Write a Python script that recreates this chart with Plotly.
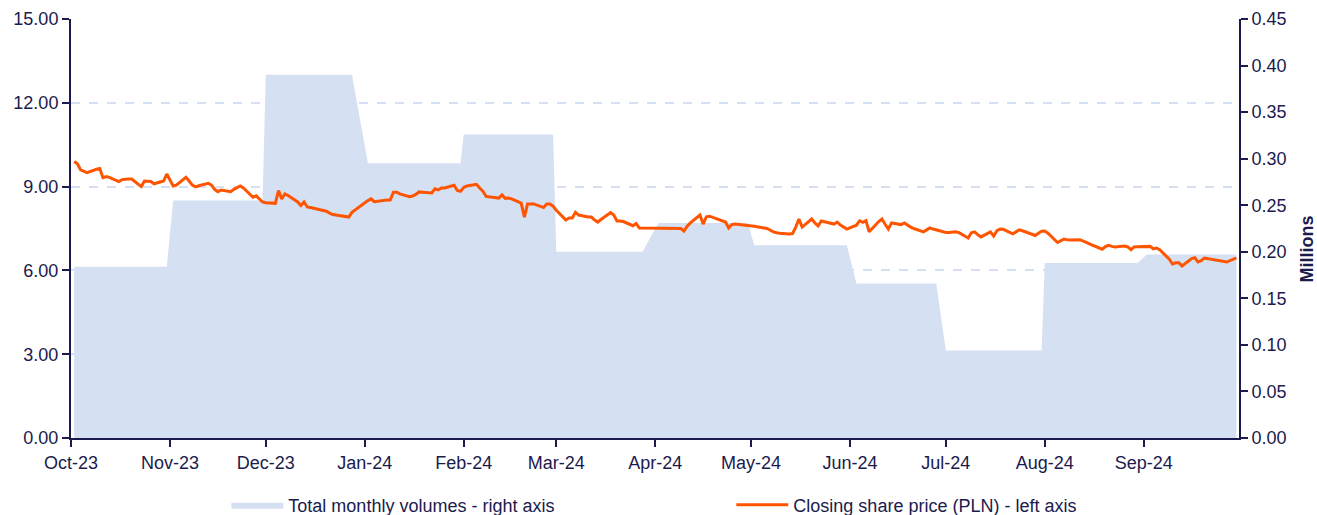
import pandas as pd
import plotly.graph_objects as go

# ---------------- data ----------------
months = ["2023-10", "2023-11", "2023-12", "2024-01", "2024-02", "2024-03",
          "2024-04", "2024-05", "2024-06", "2024-07", "2024-08", "2024-09"]

# total monthly volume (millions of shares)
monthly_volume = [0.184, 0.255, 0.390, 0.295, 0.326, 0.200,
                  0.231, 0.207, 0.166, 0.094, 0.188, 0.197]

# exchange holidays (no session)
holidays = ["2023-11-01", "2023-12-25", "2023-12-26", "2023-12-29", "2024-01-01",
            "2024-03-29", "2024-04-01", "2024-05-01", "2024-05-03", "2024-05-30",
            "2024-08-15"]

# daily closing prices (PLN), one list per month, one value per session
price_oct = [9.90, 9.82, 9.60, 9.55, 9.50, 9.62, 9.65, 9.32, 9.36, 9.33, 9.18,
             9.25, 9.27, 9.27, 9.27, 9.00, 9.20, 9.20, 9.18, 9.10, 9.20, 9.45]
price_nov = [9.02, 9.05, 9.33, 9.20, 9.05, 8.99, 9.03, 9.12, 9.05, 8.90, 8.82,
             8.88, 8.82, 8.90, 8.97, 9.02, 8.95, 8.62, 8.67, 8.55, 8.45]
price_dec = [8.42, 8.40, 8.86, 8.56, 8.74, 8.68, 8.45, 8.32, 8.45, 8.27, 8.25,
             8.17, 8.15, 8.12, 8.05, 8.00, 7.91, 8.08]
price_jan = [8.50, 8.56, 8.46, 8.48, 8.52, 8.52, 8.80, 8.80, 8.74, 8.64, 8.66,
             8.72, 8.81, 8.80, 8.77, 8.92, 8.88, 8.95, 8.95, 9.05, 8.86, 8.83]
price_feb = [8.97, 9.02, 9.08, 8.95, 8.84, 8.65, 8.63, 8.59, 8.70, 8.58, 8.59,
             8.56, 8.41, 7.91, 8.38, 8.38, 8.38, 8.25, 8.38, 8.38, 8.30]
price_mar = [8.15, 7.80, 7.88, 7.88, 8.08, 7.98, 7.91, 7.91, 7.80, 7.73, 7.82,
             8.07, 7.98, 7.77, 7.77, 7.75, 7.60, 7.68, 7.52, 7.52]
price_apr = [7.52, 7.52, 7.52, 7.52, 7.52, 7.50, 7.41, 7.58, 7.70, 7.98, 7.66,
             7.92, 7.94, 7.90, 7.76, 7.73, 7.52, 7.64, 7.66, 7.63, 7.61]
price_may = [7.58, 7.50, 7.43, 7.38, 7.35, 7.33, 7.30, 7.32, 7.55, 7.84, 7.55,
             7.84, 7.70, 7.59, 7.77, 7.74, 7.66, 7.73, 7.62, 7.48]
price_jun = [7.62, 7.77, 7.72, 7.78, 7.38, 7.75, 7.84, 7.65, 7.48, 7.70, 7.64,
             7.70, 7.62, 7.55, 7.50, 7.38, 7.45, 7.52, 7.48, 7.45]
price_jul = [7.36, 7.36, 7.37, 7.38, 7.36, 7.16, 7.35, 7.38, 7.28, 7.20, 7.38,
             7.23, 7.42, 7.48, 7.47, 7.31, 7.38, 7.45, 7.42, 7.38, 7.25, 7.33, 7.40]
price_aug = [7.41, 7.33, 7.00, 7.06, 7.12, 7.10, 7.09, 7.10, 7.06, 7.00, 6.90,
             6.76, 6.85, 6.90, 6.86, 6.84, 6.87, 6.84, 6.74, 6.84, 6.85]
price_sep = [6.86, 6.86, 6.77, 6.80, 6.74, 6.40, 6.23, 6.27, 6.27, 6.16, 6.42,
             6.45, 6.30, 6.35, 6.44, 6.38, 6.36, 6.35, 6.33, 6.30, 6.45]

monthly_prices = [price_oct, price_nov, price_dec, price_jan, price_feb, price_mar,
                  price_apr, price_may, price_jun, price_jul, price_aug, price_sep]

# ---------------- build series ----------------
hol = pd.to_datetime(holidays)
dates, prices, volumes = [], [], []
for m, vol, plist in zip(months, monthly_volume, monthly_prices):
    start = pd.Timestamp(m + "-01")
    end = start + pd.offsets.MonthEnd(0)
    days = [d for d in pd.bdate_range(start, end) if d not in hol]
    n = min(len(days), len(plist))
    dates += days[:n]
    prices += plist[:n]
    volumes += [vol] * n

NAVY = "#1b1b4d"
AREA = "#d6e0f3"
FONT = "Liberation Sans, Arial, sans-serif"

fig = go.Figure()
# volume on the base axis (drawn underneath), shown on the right side
fig.add_trace(go.Scatter(
    x=dates, y=volumes, name="Total monthly volumes - right axis",
    mode="lines", line=dict(width=0, color=AREA),
    fill="tozeroy", fillcolor=AREA, yaxis="y"))
# price on the overlaying axis (drawn on top), shown on the left side
fig.add_trace(go.Scatter(
    x=dates, y=prices, name="Closing share price (PLN) - left axis",
    mode="lines", line=dict(width=3, color="#ff5500"), yaxis="y2"))

axis_common = dict(ticks="outside", ticklen=7, tickwidth=2, tickcolor=NAVY,
                   showline=True, linecolor=NAVY, linewidth=2, zeroline=False,
                   tickformat=".2f", tickfont=dict(size=18, color=NAVY))

fig.update_layout(
    width=1317, height=515,
    margin=dict(l=71, r=78, t=19, b=77, autoexpand=False),
    paper_bgcolor="white", plot_bgcolor="white",
    font=dict(family=FONT, size=18, color=NAVY),
    showlegend=True,
    legend=dict(orientation="h", x=0.133, xanchor="left", y=-0.116, yanchor="top",
                font=dict(size=18, color=NAVY), entrywidth=438, itemwidth=52,
                entrywidthmode="pixels", traceorder="normal",
                bgcolor="rgba(0,0,0,0)"),
    xaxis=dict(
        type="date", range=["2023-10-01", "2024-09-30 20:00"],
        tick0="2023-10-01", dtick="M1", tickformat="%b-%y",
        ticks="outside", ticklen=7, tickwidth=2, tickcolor=NAVY,
        showline=True, linecolor=NAVY, linewidth=2,
        showgrid=False, zeroline=False,
        tickfont=dict(size=18, color=NAVY)),
    yaxis=dict(range=[0, 0.45], dtick=0.05, side="right", showgrid=False,
               **axis_common),
    yaxis2=dict(range=[0, 15], dtick=3, side="left", overlaying="y",
                showgrid=True, gridcolor=AREA, griddash="dash", gridwidth=2,
                **axis_common),
    annotations=[dict(
        text="<b>Millions</b>", textangle=-90, xref="paper", yref="paper",
        x=1.0, xshift=80, y=0.45, showarrow=False,
        font=dict(size=18, color=NAVY, family=FONT))],
)

fig.write_html("out.html", config={"displayModeBar": False},
               post_script="document.body.style.margin='0';")
